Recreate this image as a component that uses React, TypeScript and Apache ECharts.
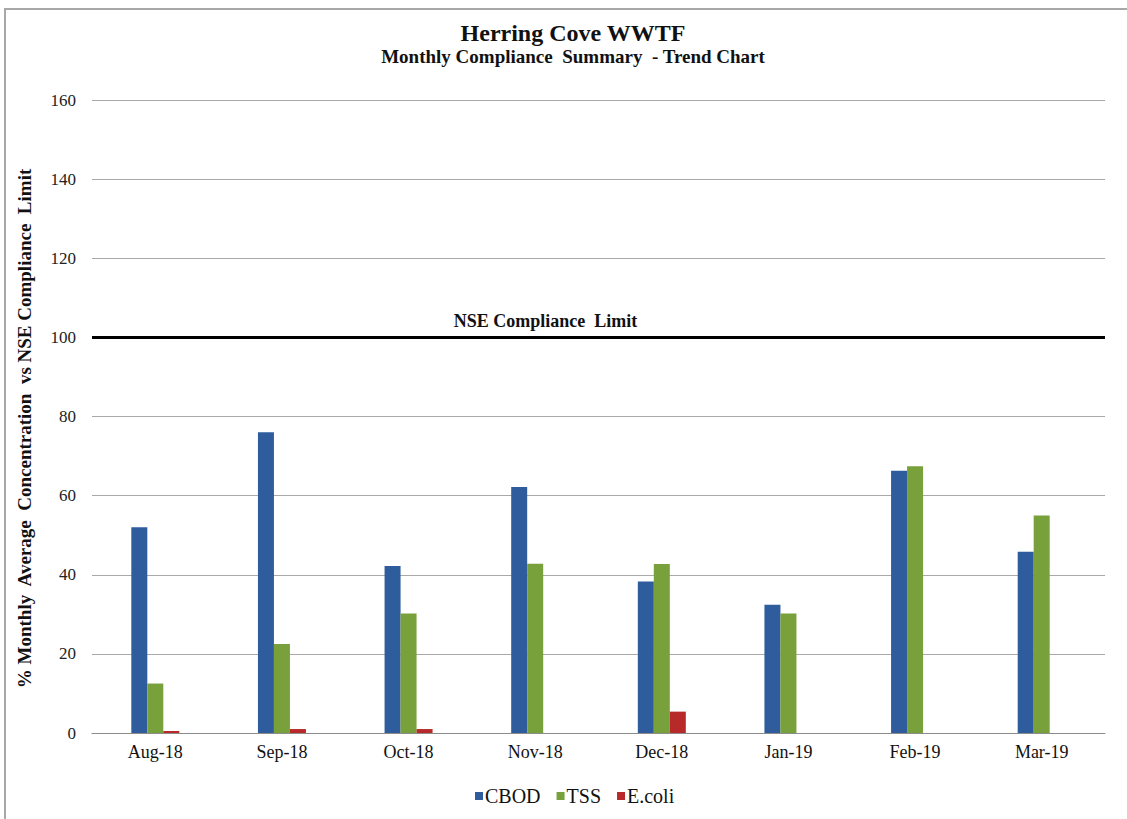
import React, { useEffect, useRef } from "react";
import * as echarts from "echarts";

const categories = ["Aug-18", "Sep-18", "Oct-18", "Nov-18", "Dec-18", "Jan-19", "Feb-19", "Mar-19"];
const cbod = [52, 76, 42.2, 62.2, 38.3, 32.4, 66.3, 45.8];
const tss = [12.5, 22.5, 30.2, 42.8, 42.7, 30.2, 67.4, 55];
const ecoli = [0.5, 1, 1, 0, 5.4, 0, 0, 0];
const limitValue = 100;
const limitLabel = "NSE Compliance  Limit";
const titleText = "Herring Cove WWTF";
const subtitleText = "Monthly Compliance  Summary  - Trend Chart";
const yAxisName = "% Monthly  Average  Concentration  vs NSE Compliance  Limit";

const SERIF = "Liberation Serif, DejaVu Serif, serif";

export default function App() {
  const ref = useRef<HTMLDivElement>(null);
  useEffect(() => {
    document.body.style.margin = "0";
    const chart = echarts.init(ref.current!, null, { renderer: "svg" });
    chart.setOption({
      animation: false,
      backgroundColor: "#ffffff",
      textStyle: { fontFamily: SERIF },
      title: {
        text: titleText,
        subtext: subtitleText,
        left: 568,
        textAlign: "center",
        top: 16,
        itemGap: 2,
        textStyle: { fontFamily: SERIF, fontWeight: "bold", fontSize: 24, color: "#111" },
        subtextStyle: { fontFamily: SERIF, fontWeight: "bold", fontSize: 19, color: "#111" },
      },
      graphic: [
        {
          type: "rect",
          shape: { x: 5, y: 9, width: 1140, height: 830 },
          style: { fill: "none", stroke: "#a8a8a8", lineWidth: 2 },
          silent: true,
        },
      ],
      legend: {
        bottom: 8,
        left: 470,
        itemWidth: 8,
        itemHeight: 8,
        itemGap: 16,
        icon: "rect",
        formatter: (name: string) => "{s|" + name + "}",
        textStyle: {
          fontFamily: "Liberation Serif",
          fontSize: 20,
          color: "#111",
          rich: { s: { fontFamily: "Liberation Serif", fontSize: 20, color: "#111", padding: [0, 0, 0, -3] } },
        },
        data: ["CBOD", "TSS", "E.coli"],
      },
      grid: { left: 92, right: 22, top: 100, bottom: 86 },
      xAxis: {
        type: "category",
        data: categories,
        axisLine: { lineStyle: { color: "#8c8c8c", width: 1 } },
        axisTick: { length: 5, lineStyle: { color: "#8c8c8c" } },
        axisLabel: { fontFamily: SERIF, fontSize: 18, color: "#111", margin: 10 },
      },
      yAxis: {
        type: "value",
        min: 0,
        max: 160,
        interval: 20,
        name: yAxisName,
        nameLocation: "middle",
        nameGap: 58,
        nameTextStyle: { fontFamily: SERIF, fontWeight: "bold", fontSize: 19, color: "#111", padding: [0, 24, 0, 0] },
        axisLine: { show: false },
        axisTick: { show: false },
        axisLabel: { fontFamily: SERIF, fontSize: 17, color: "#222", margin: 16 },
        splitLine: { lineStyle: { color: "#a9a9a9", width: 1 } },
      },
      series: [
        {
          name: "CBOD",
          type: "bar",
          data: cbod,
          barWidth: 16,
          barGap: "0%",
          itemStyle: { color: "#2e5c9c" },
          markLine: {
            silent: true,
            symbol: ["none", "none"],
            lineStyle: { color: "#000", width: 3, type: "solid" },
            label: {
              show: true,
              position: "insideMiddleTop",
              formatter: limitLabel,
              fontFamily: SERIF,
              fontWeight: "bold",
              fontSize: 18,
              color: "#111",
              distance: 7,
              padding: [0, 106, 0, 0],
            },
            data: [{ yAxis: limitValue }],
          },
        },
        {
          name: "TSS",
          type: "bar",
          data: tss,
          barWidth: 16,
          barGap: "0%",
          itemStyle: { color: "#78a03b" },
        },
        {
          name: "E.coli",
          type: "bar",
          data: ecoli,
          barWidth: 16,
          barGap: "0%",
          itemStyle: { color: "#b82a2a" },
        },
      ],
    });
    return () => chart.dispose();
  }, []);
  return <div ref={ref} style={{ width: 1127, height: 819 }} />;
}
